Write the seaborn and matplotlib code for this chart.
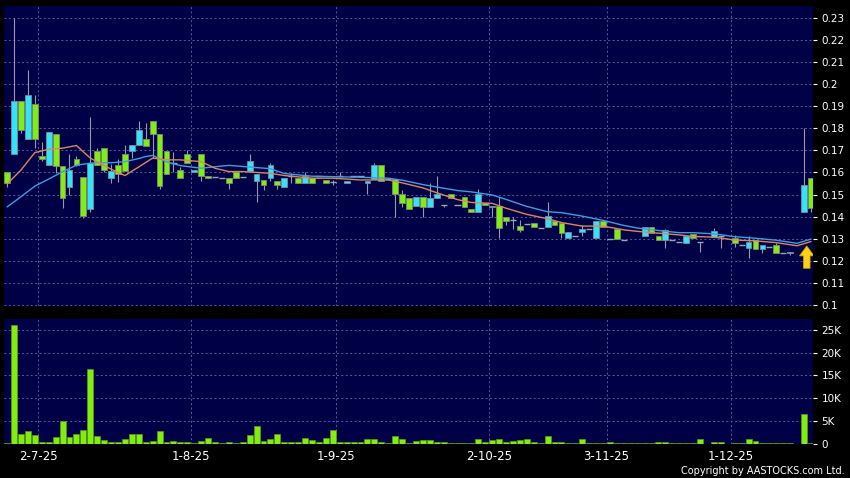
import numpy as np
import pandas as pd
import matplotlib
matplotlib.use("Agg")
import matplotlib.pyplot as plt
from matplotlib.patches import FancyArrow
import seaborn as sns

nan = float("nan")

# daily candles, one per trading day (index 0..116)
opens = [0.1600, 0.1685, 0.1924, 0.1750, 0.1909, 0.1675, 0.1633, 0.1773, 0.1631, 0.1534,
         0.1660, 0.1581, 0.1433, 0.1699, 0.1710, 0.1574, 0.1633, 0.1683, 0.1699, 0.1725,
         0.1750, 0.1832, 0.1774, 0.1699, 0.1645, 0.1611, 0.1683, 0.1601, 0.1683, 0.1584,
         0.1580, 0.1575, 0.1577, 0.1604, 0.1580, 0.1607, 0.1563, 0.1565, 0.1574, 0.1559,
         0.1533, 0.1584, 0.1574, 0.1551, 0.1574, 0.1582, 0.1564, 0.1556, 0.1584, 0.1551,
         0.1582, 0.1582, 0.1551, 0.1569, 0.1634, 0.1569, 0.1569, 0.1501, 0.1483, 0.1450,
         0.1490, 0.1442, 0.1483, 0.1453, 0.1501, 0.1453, 0.1490, 0.1433, 0.1420, 0.1460,
         0.1442, 0.1450, 0.1400, 0.1385, 0.1359, 0.1366, 0.1371, 0.1350, 0.1352, 0.1382,
         0.1370, 0.1305, 0.1310, 0.1332, 0.1343, 0.1302, 0.1382, 0.1298, 0.1343, 0.1294,
         nan, nan, 0.1313, 0.1351, 0.1310, 0.1294, 0.1294, 0.1285, 0.1282, 0.1320,
         0.1285, nan, 0.1307, 0.1310, nan, 0.1302, 0.1272, 0.1260, 0.1294, 0.1252,
         0.1264, 0.1270, 0.1234, 0.1234, nan, 0.1420, 0.1574]
highs = [0.1600, 0.2300, 0.1924, 0.2064, 0.1950, 0.1740, 0.1782, 0.1773, 0.1631, 0.1684,
         0.1675, 0.1581, 0.1850, 0.1710, 0.1710, 0.1639, 0.1660, 0.1725, 0.1725, 0.1835,
         0.1823, 0.1832, 0.1774, 0.1699, 0.1694, 0.1625, 0.1702, 0.1611, 0.1683, 0.1584,
         0.1580, 0.1575, 0.1577, 0.1604, 0.1580, 0.1684, 0.1593, 0.1565, 0.1645, 0.1559,
         0.1573, 0.1597, 0.1574, 0.1600, 0.1574, 0.1582, 0.1564, 0.1565, 0.1604, 0.1559,
         0.1582, 0.1582, 0.1559, 0.1641, 0.1634, 0.1569, 0.1569, 0.1520, 0.1483, 0.1490,
         0.1490, 0.1551, 0.1584, 0.1453, 0.1501, 0.1453, 0.1490, 0.1433, 0.1524, 0.1460,
         0.1450, 0.1490, 0.1400, 0.1400, 0.1385, 0.1366, 0.1371, 0.1350, 0.1468, 0.1382,
         0.1370, 0.1332, 0.1310, 0.1362, 0.1343, 0.1382, 0.1382, 0.1298, 0.1343, 0.1294,
         nan, nan, 0.1351, 0.1351, 0.1310, 0.1345, 0.1294, 0.1285, 0.1313, 0.1320,
         0.1285, nan, 0.1348, 0.1310, nan, 0.1316, 0.1272, 0.1310, 0.1294, 0.1270,
         0.1264, 0.1280, 0.1234, 0.1240, nan, 0.1800, 0.1574]
lows = [0.1536, 0.1685, 0.1780, 0.1750, 0.1710, 0.1650, 0.1633, 0.1597, 0.1441, 0.1498,
        0.1628, 0.1394, 0.1421, 0.1633, 0.1604, 0.1550, 0.1558, 0.1608, 0.1664, 0.1725,
        0.1722, 0.1666, 0.1524, 0.1592, 0.1600, 0.1574, 0.1642, 0.1601, 0.1562, 0.1574,
        0.1580, 0.1575, 0.1524, 0.1577, 0.1580, 0.1607, 0.1468, 0.1520, 0.1560, 0.1525,
        0.1533, 0.1551, 0.1551, 0.1551, 0.1551, 0.1582, 0.1551, 0.1545, 0.1584, 0.1551,
        0.1582, 0.1582, 0.1501, 0.1569, 0.1563, 0.1569, 0.1400, 0.1443, 0.1433, 0.1450,
        0.1400, 0.1442, 0.1483, 0.1442, 0.1483, 0.1453, 0.1442, 0.1420, 0.1420, 0.1452,
        0.1400, 0.1302, 0.1363, 0.1345, 0.1330, 0.1366, 0.1351, 0.1350, 0.1352, 0.1362,
        0.1302, 0.1305, 0.1310, 0.1310, 0.1343, 0.1302, 0.1352, 0.1298, 0.1298, 0.1294,
        nan, nan, 0.1313, 0.1325, 0.1294, 0.1260, 0.1294, 0.1285, 0.1282, 0.1302,
        0.1241, nan, 0.1307, 0.1258, nan, 0.1264, 0.1272, 0.1211, 0.1252, 0.1237,
        0.1264, 0.1234, 0.1234, 0.1225, nan, 0.1420, 0.1423]
closes = [0.1551, 0.1924, 0.1793, 0.1950, 0.1750, 0.1660, 0.1782, 0.1631, 0.1483, 0.1610,
          0.1633, 0.1403, 0.1642, 0.1633, 0.1611, 0.1605, 0.1593, 0.1608, 0.1725, 0.1793,
          0.1722, 0.1775, 0.1539, 0.1592, 0.1645, 0.1574, 0.1642, 0.1611, 0.1584, 0.1574,
          0.1580, 0.1575, 0.1552, 0.1577, 0.1580, 0.1652, 0.1593, 0.1545, 0.1634, 0.1541,
          0.1573, 0.1584, 0.1551, 0.1584, 0.1551, 0.1582, 0.1551, 0.1556, 0.1584, 0.1559,
          0.1582, 0.1582, 0.1559, 0.1634, 0.1563, 0.1569, 0.1501, 0.1460, 0.1433, 0.1490,
          0.1442, 0.1483, 0.1501, 0.1453, 0.1483, 0.1453, 0.1442, 0.1420, 0.1503, 0.1452,
          0.1450, 0.1347, 0.1380, 0.1385, 0.1340, 0.1366, 0.1351, 0.1350, 0.1403, 0.1362,
          0.1325, 0.1332, 0.1310, 0.1343, 0.1343, 0.1382, 0.1352, 0.1298, 0.1298, 0.1294,
          nan, nan, 0.1351, 0.1325, 0.1294, 0.1340, 0.1294, 0.1285, 0.1313, 0.1302,
          0.1285, nan, 0.1335, 0.1310, nan, 0.1282, 0.1272, 0.1284, 0.1252, 0.1270,
          0.1264, 0.1234, 0.1234, 0.1240, nan, 0.1543, 0.1441]

# volume in thousands of shares
volume_k = [0.2, 26.1, 2.1, 2.7, 1.8, 0.4, 0.4, 1.5, 4.9, 1.4,
            2.2, 2.9, 16.5, 1.6, 0.7, 0.4, 0.4, 0.9, 2.2, 2.2,
            0.3, 0.6, 2.7, 0.3, 0.5, 0.4, 0.4, 0.05, 0.5, 1.2,
            0.4, 0.1, 0.3, 0.05, 0.3, 1.8, 3.8, 0.6, 0.9, 2.1,
            0.3, 0.4, 0.4, 1.3, 0.8, 0.4, 1.3, 2.9, 0.4, 0.3,
            0.3, 0.4, 1.1, 1.0, 0.4, 0.1, 1.6, 1.1, 0.1, 0.5,
            0.8, 0.7, 0.3, 0.4, 0.05, 0.05, 0.1, 0.2, 1.1, 0.3,
            0.7, 1.0, 0.4, 0.6, 0.7, 1.0, 0.3, 0.1, 1.6, 0.3,
            0.3, 0.15, 0.1, 1.1, 0.1, 0.05, 0.05, 0.3, 0.05, 0.05,
            0.1, 0.1, 0.05, 0.05, 0.3, 0.3, 0.05, 0.05, 0.2, 0.05,
            1.0, 0.0, 0.4, 0.3, 0.0, 0.2, 0.05, 1.0, 0.5, 0.1,
            0.05, 0.1, 0.05, 0.05, 0.0, 6.6, 0.1]

# moving averages at these candle positions
ma_pos = [0, 2, 4, 6, 8, 10, 12, 13, 15, 17, 19, 20, 21, 23, 25, 28, 30, 32, 34, 38,
          40, 44, 47, 51, 55, 57, 60, 62, 65, 67, 70, 72, 75, 78, 80, 83, 86, 89, 91, 94,
          97, 99, 102, 105, 108, 111, 114, 116]
ma_short = [0.1548, 0.1611, 0.1690, 0.1705, 0.1710, 0.1722, 0.1665, 0.1648, 0.1615, 0.1586,
            0.1625, 0.1645, 0.1665, 0.1657, 0.1657, 0.1649, 0.1619, 0.1604, 0.1604, 0.1596,
            0.1586, 0.1574, 0.1574, 0.1566, 0.1566, 0.1553, 0.1530, 0.1508, 0.1477, 0.1464,
            0.1460, 0.1438, 0.1410, 0.1390, 0.1373, 0.1357, 0.1357, 0.1340, 0.1333, 0.1325,
            0.1317, 0.1310, 0.1307, 0.1294, 0.1290, 0.1282, 0.1268, 0.1287]
ma_long = [0.1444, 0.1490, 0.1538, 0.1570, 0.1603, 0.1633, 0.1642, 0.1644, 0.1644, 0.1649,
           0.1663, 0.1672, 0.1677, 0.1648, 0.1631, 0.1619, 0.1626, 0.1632, 0.1627, 0.1617,
           0.1595, 0.1583, 0.1581, 0.1578, 0.1574, 0.1565, 0.1545, 0.1534, 0.1518, 0.1512,
           0.1498, 0.1478, 0.1446, 0.1422, 0.1418, 0.1402, 0.1383, 0.1360, 0.1348, 0.1337,
           0.1327, 0.1327, 0.1322, 0.1309, 0.1302, 0.1293, 0.1279, 0.1298]

date_labels = ["2-7-25", "1-8-25", "1-9-25", "2-10-25", "3-11-25", "1-12-25"]
date_pos = [4.5, 26.5, 47.5, 69.5, 86.5, 104.5]
price_ticks = [0.10, 0.11, 0.12, 0.13, 0.14, 0.15, 0.16, 0.17, 0.18, 0.19, 0.20, 0.21, 0.22, 0.23]
vol_ticks = [0, 5, 10, 15, 20, 25]

df = pd.DataFrame({"open": opens, "high": highs, "low": lows, "close": closes,
                   "vol": volume_k})
df["x"] = df.index

UP = "#33E4F8"
DOWN = "#80EE10"
PANEL = "#000046"
GRID = "#5a5a9a"

sns.set_style("dark")
plt.rcParams["font.family"] = ["DejaVu Sans"]

W, H = 850, 478
fig = plt.figure(figsize=(W / 100, H / 100), dpi=100, facecolor="black")
ax = fig.add_axes([4 / W, 1 - 306 / H, 809 / W, 300 / H])
axv = fig.add_axes([4 / W, 1 - 443.5 / H, 809 / W, 124.5 / H], sharex=ax)

for a in (ax, axv):
    a.set_facecolor(PANEL)
    for s in a.spines.values():
        s.set_visible(False)

# candles
c = df.dropna()
up = c[c["close"] > c["open"]]
dn = c[c["close"] < c["open"]]
dj = c[c["close"] == c["open"]]
ax.vlines(c["x"], c["low"], c["high"], color="#9a9aa6", lw=0.8, zorder=2)
ax.bar(up["x"], up["close"] - up["open"], bottom=up["open"], width=0.84,
       color=UP, edgecolor="#7a8a9a", linewidth=0.6, zorder=3)
ax.bar(dn["x"], dn["open"] - dn["close"], bottom=dn["close"], width=0.84,
       color=DOWN, edgecolor="#7a8a7a", linewidth=0.6, zorder=3)
ax.hlines(dj["open"], dj["x"] - 0.45, dj["x"] + 0.45, color="#9aa6b0", lw=1.0, zorder=3)

sns.lineplot(x=ma_pos, y=ma_long, color="#3C9FE0", lw=1.0, ax=ax, zorder=4)
sns.lineplot(x=ma_pos, y=ma_short, color="#E0845A", lw=1.0, ax=ax, zorder=4)

# yellow arrow marking the latest session
ax.add_patch(FancyArrow(115.4, 0.1166, 0, 0.0101, width=0.95, head_width=2.1,
                        head_length=0.0045, length_includes_head=True,
                        fc="#FFD21A", ec="#D49A00", lw=0.6, zorder=5))

# volume
sns.barplot(x=df["x"], y=df["vol"], native_scale=True, color=DOWN, saturation=1,
            width=0.86, edgecolor="#5a9a1a", linewidth=0.5, errorbar=None, ax=axv, zorder=3)

ax.set_xlim(-0.45, 116.3)
ax.set_ylim(0.0995, 0.2354)
axv.set_ylim(0, 27.4)

for a in (ax, axv):
    a.set_xlabel("")
    a.set_ylabel("")
    a.yaxis.tick_right()
    a.grid(True, color=GRID, ls=(0, (2, 2.5)), lw=0.7)
    a.set_axisbelow(True)

ax.set_yticks(price_ticks)
ax.set_yticklabels([f"{t:g}" for t in price_ticks])
axv.set_yticks(vol_ticks)
axv.set_yticklabels([f"{t}K" if t else "0" for t in vol_ticks])
axv.set_xticks(date_pos)
axv.set_xticklabels(date_labels)

ax.tick_params(axis="x", which="both", length=0, labelbottom=False)
ax.tick_params(axis="y", colors="white", labelsize=7.5, length=3, pad=3,
               left=False, right=True, labelleft=False, labelright=True)
axv.tick_params(axis="y", colors="white", labelsize=7.5, length=3, pad=3,
                left=False, right=True, labelleft=False, labelright=True)
axv.tick_params(axis="x", colors="white", labelsize=8.5, length=3, pad=2)

fig.text(845 / W, 1 - 476 / H, "Copyright by AASTOCKS.com Ltd.", ha="right", va="bottom",
         color="white", fontsize=7)

fig.savefig("out.png", dpi=100, facecolor="black")
